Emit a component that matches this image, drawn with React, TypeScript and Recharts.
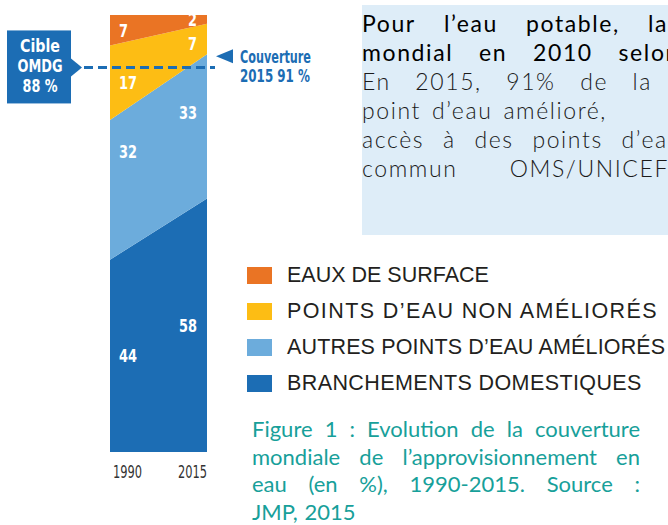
import { Area, AreaChart, Legend, ReferenceLine, XAxis, YAxis } from "recharts";

const YEARS = ["1990", "2015"];
const BRANCHEMENTS = [44, 58];
const AUTRES_AMELIORES = [32, 33];
const NON_AMELIORES = [17, 7];
const EAUX_SURFACE = [7, 2];
const CIBLE_OMDG = 88;
const COUVERTURE_2015 = 91;

const LEGEND_ITEMS = [
  { name: "EAUX DE SURFACE", key: "surface" },
  { name: "POINTS D’EAU NON AMÉLIORÉS", key: "nonAmeliores" },
  { name: "AUTRES POINTS D’EAU AMÉLIORÉS", key: "autres" },
  { name: "BRANCHEMENTS DOMESTIQUES", key: "branchements" },
];
// the legend rows are not set with the same tracking in the original
const LEGEND_TRACKING = [0, 1.4, 0.15, 0.4];

const COLORS: Record<string, string> = {
  surface: "#EA7424",
  nonAmeliores: "#FDBD14",
  autres: "#6CACDC",
  branchements: "#1C6DB4",
};

const data = YEARS.map((year, i) => ({
  year,
  branchements: BRANCHEMENTS[i],
  autres: AUTRES_AMELIORES[i],
  nonAmeliores: NON_AMELIORES[i],
  surface: EAUX_SURFACE[i],
}));

const COND = "'Liberation Sans Narrow', 'DejaVu Sans Condensed', 'Roboto', sans-serif";
const BLUE = "#1C6DB4";
const PLOT_H = 437; // 525 - 15 top - 73 bottom

// number written inside each band, nudged toward the edge of the chart
const bandLabel = (values: number[], dys: number[] = [0, 0]) => (props: any) => {
  const { x, y, index } = props;
  const v = values[index];
  const first = index === 0;
  return (
    <text
      x={first ? x + 9 : x - 10}
      y={y + (v * PLOT_H) / 200 + dys[index]}
      textAnchor={first ? "start" : "end"}
      dominantBaseline="central"
      fill="#fff"
      fontFamily={COND}
      fontWeight={700}
      fontSize={18}
      textLength={String(v).length * 9}
      lengthAdjust="spacingAndGlyphs"
    >
      {v}
    </text>
  );
};

const YearTick = (props: any) => {
  const { x, y, payload, index } = props;
  const first = index === 0;
  return (
    <text
      x={first ? x + 3 : x}
      y={y + 20}
      textAnchor={first ? "start" : "end"}
      dominantBaseline="central"
      fill="#333"
      fontFamily={COND}
      fontSize={17}
      textLength={29}
      lengthAdjust="spacingAndGlyphs"
    >
      {payload.value}
    </text>
  );
};

const CibleShape = (props: any) => {
  const { x1, y1, x2 } = props;
  const t = {
    fill: "#fff",
    fontFamily: COND,
    fontWeight: 700,
    fontSize: 17,
    textAnchor: "middle" as const,
    dominantBaseline: "central" as const,
    lengthAdjust: "spacingAndGlyphs" as const,
  };
  return (
    <g>
      <rect x={7} y={y1 - 37} width={64} height={73} fill={BLUE} />
      <polygon points={`71,${y1 - 9} 82,${y1} 71,${y1 + 9}`} fill={BLUE} />
      <text x={40} y={y1 - 21} textLength={40} {...t}>Cible</text>
      <text x={40} y={y1 - 1} textLength={45} {...t}>OMDG</text>
      <text x={40} y={y1 + 19} textLength={35} {...t}>88 %</text>
      <line x1={x1 - 26} y1={y1} x2={x2 + 8} y2={y1} stroke={BLUE} strokeWidth={3} strokeDasharray="9 5" />
    </g>
  );
};

const CouvertureShape = (props: any) => {
  const { x2, y1 } = props;
  const t = {
    fill: BLUE,
    fontFamily: COND,
    fontWeight: 700,
    fontSize: 17,
    dominantBaseline: "central" as const,
    lengthAdjust: "spacingAndGlyphs" as const,
  };
  return (
    <g>
      <polygon points={`${x2 + 9},${y1 + 2} ${x2 + 26},${y1 - 5} ${x2 + 26},${y1 + 9}`} fill={BLUE} />
      <text x={x2 + 33} y={y1 + 3} textLength={71} {...t}>Couverture</text>
      <text x={x2 + 33} y={y1 + 22} textLength={70} {...t}>2015 91 %</text>
    </g>
  );
};

const renderLegend = () => (
  <div>
    {LEGEND_ITEMS.map((item, i) => (
      <div key={item.key} style={{ display: "flex", alignItems: "center", height: 36 }}>
        <span style={{ display: "inline-block", width: 25, height: 17, background: COLORS[item.key], marginRight: 15 }} />
        <span
          style={{
            fontFamily: "'Liberation Sans', Arial, sans-serif",
            fontSize: 21.5,
            letterSpacing: LEGEND_TRACKING[i],
            color: "#231F20",
            whiteSpace: "nowrap",
          }}
        >
          {item.name}
        </span>
      </div>
    ))}
  </div>
);

const BOX_LINES = [
  { text: "Pour l’eau potable, la", width: 306, weight: 400 },
  { text: "mondial en 2010 selon", width: 318, weight: 400 },
  { text: "En 2015, 91% de la", width: 290, weight: 300 },
  { text: "point d’eau amélioré,", width: 245, weight: 300 },
  { text: "accès à des points d’eau", width: 320, weight: 300 },
  { text: "commun OMS/UNICEF", width: 307, weight: 300 },
];

const CAPTION_LINES = [
  "Figure 1 : Evolution de la couverture",
  "mondiale de l’approvisionnement en",
  "eau (en %), 1990-2015. Source :",
  "JMP, 2015",
];

// a justified line: words pushed apart to fill the width
const JustLine = ({ text, width, style }: { text: string; width?: number; style?: any }) => (
  <div style={{ display: "flex", justifyContent: width ? "space-between" : "flex-start", gap: width ? 0 : "0.3em", width, whiteSpace: "nowrap", ...style }}>
    {text.split(" ").map((w, i) => (
      <span key={i}>{w}</span>
    ))}
  </div>
);

export default function App() {
  return (
    <div style={{ position: "absolute", left: 0, top: 0, width: 668, height: 525, overflow: "hidden", background: "#fff" }}>
      <div
        style={{
          position: "absolute",
          left: 362,
          top: 5,
          width: 306,
          height: 230,
          background: "#DEEDF8",
          overflow: "hidden",
          paddingTop: 4,
          boxSizing: "border-box",
          fontFamily: "Lato, 'Open Sans', sans-serif",
          fontSize: 23,
          lineHeight: "29px",
        }}
      >
        {BOX_LINES.map((l) => (
          <JustLine
            key={l.text}
            text={l.text}
            width={l.width}
            style={{ fontWeight: l.weight, color: l.weight === 400 ? "#000" : "#1a1a1a", letterSpacing: 1.6 }}
          />
        ))}
      </div>

      <AreaChart width={668} height={525} data={data} margin={{ top: 15, right: 461, bottom: 43, left: 110 }}>
        <XAxis dataKey="year" height={30} axisLine={false} tickLine={false} tickSize={0} tickMargin={0} tick={<YearTick />} interval={0} />
        <YAxis hide domain={[0, 100]} />
        <Area type="linear" dataKey="branchements" stackId="1" stroke="none" fill={COLORS.branchements} fillOpacity={1} isAnimationActive={false} label={bandLabel(BRANCHEMENTS)} />
        <Area type="linear" dataKey="autres" stackId="1" stroke="none" fill={COLORS.autres} fillOpacity={1} isAnimationActive={false} label={bandLabel(AUTRES_AMELIORES, [-38, -14])} />
        <Area type="linear" dataKey="nonAmeliores" stackId="1" stroke="none" fill={COLORS.nonAmeliores} fillOpacity={1} isAnimationActive={false} label={bandLabel(NON_AMELIORES, [0, 4])} />
        <Area type="linear" dataKey="surface" stackId="1" stroke="none" fill={COLORS.surface} fillOpacity={1} isAnimationActive={false} label={bandLabel(EAUX_SURFACE)} />
        <ReferenceLine y={CIBLE_OMDG} shape={CibleShape} />
        <ReferenceLine y={COUVERTURE_2015} shape={CouvertureShape} />
        <Legend
          layout="vertical"
          align="center"
          verticalAlign="middle"
          content={renderLegend}
          wrapperStyle={{ left: 247, top: 257, width: 421 }}
        />
      </AreaChart>

      <div
        style={{
          position: "absolute",
          left: 252,
          top: 415,
          width: 388,
          fontFamily: "Lato, 'Open Sans', sans-serif",
          fontSize: 22,
          lineHeight: "27.5px",
          color: "#17A09A",
        }}
      >
        {CAPTION_LINES.map((l, i) => (
          <JustLine key={l} text={l} width={i < CAPTION_LINES.length - 1 ? 388 : undefined} />
        ))}
      </div>
    </div>
  );
}
